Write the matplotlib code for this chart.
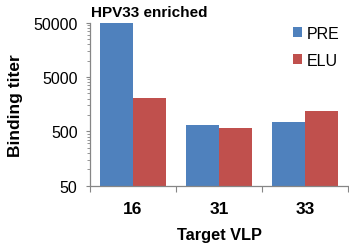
import numpy as np
import matplotlib.pyplot as plt
from matplotlib.ticker import FixedLocator, NullFormatter

plt.rcParams['font.family'] = ['Liberation Sans', 'DejaVu Sans']

# Values
categories = ["16", "31", "33"]
pre_values = [50000, 655, 745]
elu_values = [2050, 580, 1200]
y_ticks = [50, 500, 5000, 50000]
y_tick_labels = ["50", "500", "5000", "50000"]

BLUE = "#4F81BD"
RED = "#C0504D"
AXIS = "#868686"

fig = plt.figure(figsize=(3.49, 2.51), dpi=100)
ax = fig.add_axes([0.258, 0.256, 0.739, 0.650])

x = np.arange(len(categories))
w = 0.384
ax.bar(x - w / 2, pre_values, width=w, color=BLUE, label="PRE")
ax.bar(x + w / 2, elu_values, width=w, color=RED, label="ELU")

ax.set_yscale("log")
ax.set_ylim(50, 50000)
ax.set_xlim(-0.5, len(categories) - 0.5)

ax.yaxis.set_major_locator(FixedLocator(y_ticks))
ax.set_yticklabels(y_tick_labels)
minor = [b * k for b in y_ticks[:-1] for k in range(2, 10)]
ax.yaxis.set_minor_locator(FixedLocator(minor))
ax.yaxis.set_minor_formatter(NullFormatter())

ax.set_xticks(x)
ax.set_xticklabels(categories, fontweight="bold")
ax.xaxis.set_minor_locator(FixedLocator(np.arange(-0.5, len(categories), 1.0)))

ax.tick_params(axis="x", which="major", length=0, labelsize=12.5, pad=11)
ax.tick_params(axis="x", which="minor", length=4, color=AXIS, width=0.8)
ax.tick_params(axis="y", which="major", length=3, color=AXIS, width=0.8,
               labelsize=11.5, pad=6)
ax.tick_params(axis="y", which="minor", length=2, color=AXIS, width=0.6)

for side in ("top", "right"):
    ax.spines[side].set_visible(False)
for side in ("left", "bottom"):
    ax.spines[side].set_color(AXIS)
    ax.spines[side].set_linewidth(0.9)

ax.set_ylabel("Binding titer", fontsize=12.5, fontweight="bold", labelpad=7)
ax.set_xlabel("Target VLP", fontsize=11.8, fontweight="bold", labelpad=8)
ax.text(0.005, 1.02, "HPV33 enriched", transform=ax.transAxes,
        fontsize=11, fontweight="bold", ha="left", va="bottom")

ax.legend(loc="upper left", bbox_to_anchor=(0.755, 1.03), frameon=False,
          fontsize=11.5, handlelength=0.6, handleheight=0.6, borderpad=0,
          handletextpad=0.3, labelspacing=0.75)

fig.savefig("out.png", dpi=100)
